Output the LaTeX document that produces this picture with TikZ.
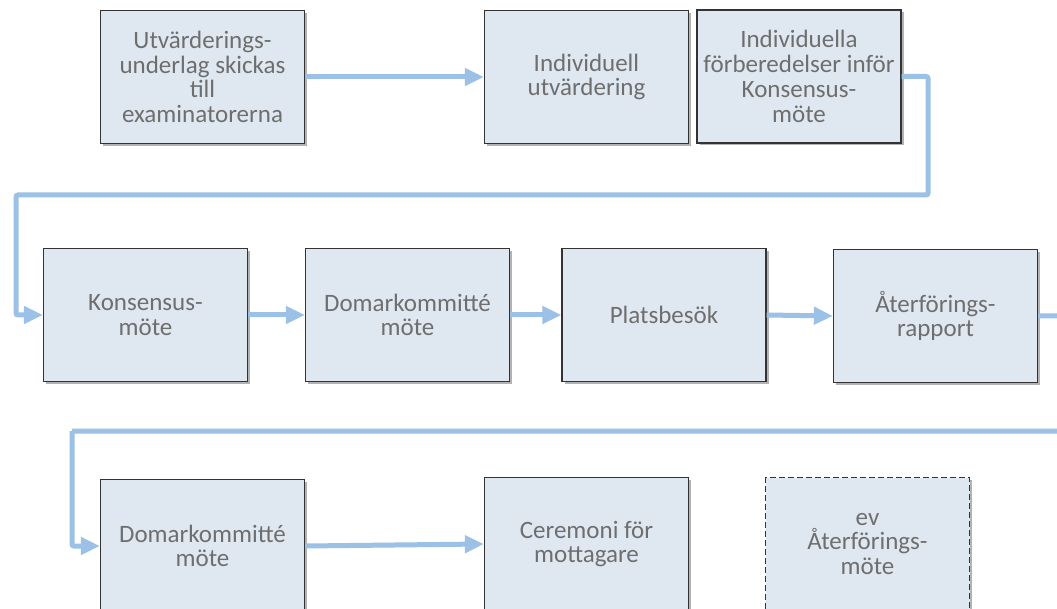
\documentclass[tikz,border=0pt]{standalone}
\usepackage{fontspec}
\setmainfont{Carlito}
\usetikzlibrary{arrows.meta,shadows}
\definecolor{boxfill}{HTML}{DFE8F1}
\definecolor{boxline}{HTML}{333333}
\definecolor{txt}{HTML}{6E6E6E}
\definecolor{flow}{HTML}{9BC1E6}
\tikzset{
  stage/.style={draw=boxline, line width=1.3pt, fill=boxfill, rectangle,
    minimum width=204pt, minimum height=133pt, inner sep=0pt,
    align=center, text=txt, font=\fontsize{25}{24.8}\selectfont,
    drop shadow={shadow xshift=2.5pt, shadow yshift=-2.5pt, opacity=0.3, fill=black}},
  optstage/.style={stage, dashed, dash pattern=on 6pt off 3pt},
  flowline/.style={draw=flow, line width=5pt, rounded corners=2pt},
  flowarrow/.style={flowline, -{Triangle[length=19pt,width=17pt]}}
}
\begin{document}
\begin{tikzpicture}[x=1pt,y=-1pt]
\useasboundingbox (0,0) rectangle (1057,609);
\clip (0,0) rectangle (1057,609);
\fill[white] (0,0) rectangle (1057,609);

\node[stage] (b1) at (202.5,77) {Utvärderings-\\underlag skickas\\till\\examinatorerna};
\node[stage] (b2) at (586.5,77) {Individuell\\utvärdering};
\node[stage] (b3) at (799,76.5) {Individuella\\förberedelser inför\\Konsensus-\\möte};

\node[stage] (b4) at (145.5,315) {Konsensus-\\möte};
\node[stage] (b5) at (407.5,315) {Domarkommitté\\möte};
\node[stage] (b6) at (664,315) {Platsbesök};
\node[stage] (b7) at (935.5,316) {Återförings-\\rapport};

\node[stage] (b8) at (202.5,546) {Domarkommitté\\möte};
\node[stage] (b9) at (586.5,544) {Ceremoni för\\mottagare};
\node[optstage] (b10) at (867.5,544) {ev\\Återförings-\\möte};

\coordinate (r1) at (928,195);
\coordinate (l1) at (16,195);
\coordinate (off1) at (1090,316);
\coordinate (off2) at (1090,431);
\coordinate (l2) at (72,431);

\draw[flowarrow] (b1.east) -- (b2.west);
\draw[flowarrow] (b3.east) -| (r1) -- (l1) |- (b4.west);
\draw[flowarrow] (b4.east) -- (b5.west);
\draw[flowarrow] (b5.east) -- (b6.west);
\draw[flowarrow] (b6.east) -- (b7.west);
\draw[flowline] (b7.east) -- (off1) -- (off2) -- (l2);
\draw[flowarrow] (l2) |- (b8.west);
\draw[flowarrow] (b8.east) -- (b9.west);
\end{tikzpicture}
\end{document}
